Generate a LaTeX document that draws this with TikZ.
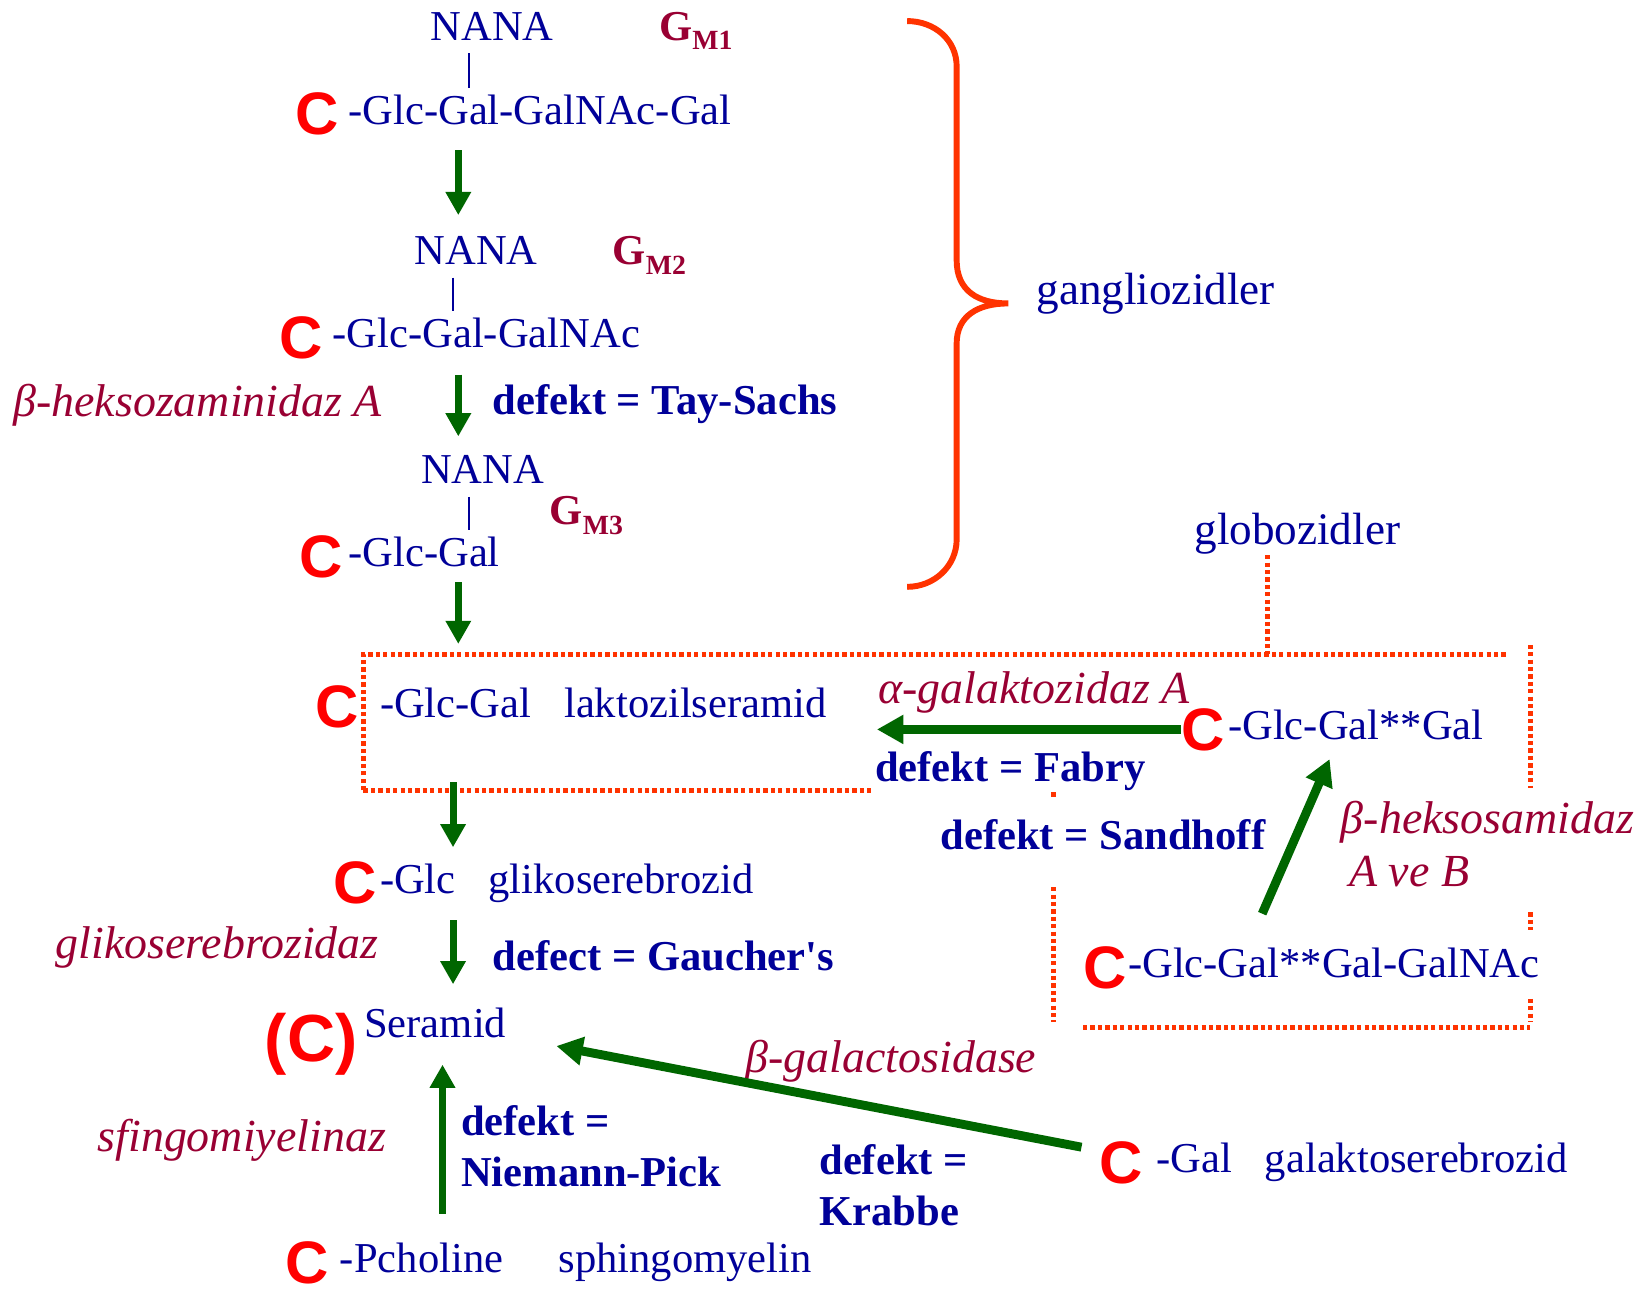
\documentclass[tikz,border=0pt]{standalone}
\usepackage{fontspec}
\setmainfont{Liberation Serif}
\newfontfamily\sansC{Liberation Sans}
\usetikzlibrary{arrows.meta,positioning}
\definecolor{navy}{HTML}{000099}
\definecolor{wine}{HTML}{990033}
\definecolor{cred}{HTML}{FF0000}
\definecolor{leaf}{HTML}{006600}
\definecolor{flame}{HTML}{FF3300}
\newcommand{\gmsub}[1]{\raisebox{-2.6pt}{\fontsize{7.5}{8}\selectfont #1}}

\begin{document}
\begin{tikzpicture}[
  mol/.style={text=navy, font=\fontsize{11.5}{13.8}\selectfont, inner sep=0pt, text height=8pt, text depth=2.5pt, anchor=base west},
  cc/.style={text=cred, font=\sansC\bfseries\fontsize{16.2}{18}\selectfont, inner sep=0pt},
  grp/.style={text=navy, font=\fontsize{12.2}{14}\selectfont, inner sep=0pt, anchor=base west},
  enz/.style={text=wine, font=\itshape\fontsize{12.4}{14.2}\selectfont, inner sep=0pt, anchor=base west, align=left},
  dfk/.style={text=navy, font=\bfseries\fontsize{11.5}{13.7}\selectfont, inner sep=0pt, anchor=base west, align=left},
  gm/.style={text=wine, font=\bfseries\fontsize{11.5}{13}\selectfont, inner sep=0pt, anchor=base west},
  arr/.style={draw=leaf, line width=1.9pt, -{Triangle[length=0.22cm,width=0.23cm]}},
  arrb/.style={draw=leaf, line width=2.4pt, -{Triangle[length=0.25cm,width=0.26cm]}},
  bar/.style={draw=navy, line width=0.5pt, shorten <=0.03cm, shorten >=0.06cm},
  dots/.style={draw=flame, line width=1.4pt, dash pattern=on 1.15pt off 0.85pt},
]
\fill[white] (0,0) rectangle (15.68,-12.27);
\useasboundingbox (0,0) rectangle (15.68,-12.27);

% ganglioside chain
\node[mol, anchor=base] (n1) at (4.67,-0.38) {NANA};
\node[gm] (gm1) at (6.25,-0.38) {G\gmsub{M1}};
\node[mol] (m1) at (3.30,-1.18) {-Glc-Gal-GalNAc-Gal};
\node[cc, left=0.08cm of m1] (c1) {C};

\node[mol, anchor=base] (n2) at (4.52,-2.51) {NANA};
\node[gm] (gm2) at (5.81,-2.51) {G\gmsub{M2}};
\node[mol] (m2) at (3.15,-3.30) {-Glc-Gal-GalNAc};
\node[cc, left=0.08cm of m2] (c2) {C};

\node[mol, anchor=base] (n3) at (4.58,-4.59) {NANA};
\node[gm] (gm3) at (5.21,-4.98) {G\gmsub{M3}};
\node[mol] (m3) at (3.30,-5.38) {-Glc-Gal};
\node[cc, left=0.04cm of m3] (c3) {C};

\node[enz] (e1) at (0.12,-3.95) {β-heksozaminidaz A};
\node[dfk] (d1) at (4.67,-3.93) {defekt = Tay-Sachs};

% brace
\draw[flame, line width=1.6pt] (8.61,-0.20) .. controls (8.87,-0.20) and (9.08,-0.38) .. (9.08,-0.63)
  -- (9.08,-2.47) .. controls (9.08,-2.76) and (9.28,-2.88) .. (9.57,-2.88)
  .. controls (9.28,-2.88) and (9.08,-3.00) .. (9.08,-3.26)
  -- (9.08,-5.12) .. controls (9.08,-5.37) and (8.87,-5.57) .. (8.61,-5.57);
\node[grp] (gang) at (9.83,-2.89) {gangliozidler};
\node[grp] (glob) at (11.33,-5.17) {globozidler};

% dotted frame
\coordinate (ftop) at (12.03,-6.21);
\draw[dots] (3.45,-7.50) -- (3.45,-6.21) -- (14.32,-6.21);
\draw[dots] (3.45,-7.50) -- (8.28,-7.50);
\draw[dots] (10.00,-7.52) -- (10.00,-7.57);
\draw[dots] (10.00,-8.42) -- (10.00,-9.70);
\draw[dots] (10.28,-9.75) -- (14.52,-9.75);
\draw[dots] (14.53,-6.12) -- (14.53,-7.48);
\draw[dots] (14.53,-8.66) -- (14.53,-8.83);
\draw[dots] (14.53,-9.48) -- (14.53,-9.70);
\draw[dots] (glob.south -| ftop) -- (ftop);

% laktozil / globo
\node[mol] (m4) at (3.60,-6.81) {-Glc-Gal\hspace{0.77em}laktozilseramid};
\node[cc, left=0.19cm of m4] (c4) {C};
\node[mol] (m5) at (11.65,-7.02) {-Glc-Gal**Gal};
\node[cc, left=0.02cm of m5] (c5) {C};
\node[mol] (m6) at (10.70,-9.28) {-Glc-Gal**Gal-GalNAc};
\node[cc, left=0cm of m6] (c6) {C};

\node[enz] (e2) at (8.33,-6.68) {α-galaktozidaz A};
\node[dfk] (d2) at (8.30,-7.42) {defekt = Fabry};
\node[dfk] (d3) at (8.92,-8.06) {defekt = Sandhoff};
\node[enz] (e3) at (12.72,-8.41) {β-heksosamidaz\\\hspace*{0.08cm}A ve B};

% cerebrosides
\node[mol] (m7) at (3.60,-8.48) {-Glc\hspace{0.77em}glikoserebrozid};
\node[cc, left=0.02cm of m7] (c7) {C};
\node[enz] (e4) at (0.52,-9.10) {glikoserebrozidaz};
\node[dfk] (d4) at (4.67,-9.21) {defect = Gaucher\textquotesingle s};

\node[mol] (ser) at (3.45,-9.85) {Seramid};
\node[cc, font=\sansC\bfseries\fontsize{18}{20}\selectfont, left=0.05cm of ser, yshift=-0.16cm] (cser) {(C)};

\node[enz] (e5) at (0.92,-10.93) {sfingomiyelinaz};
\node[dfk] (d5) at (4.37,-11.26) {defekt =\\Niemann-Pick};
\node[enz] (e6) at (7.07,-10.18) {β-galactosidase};
\node[dfk] (d6) at (7.77,-11.63) {defekt =\\Krabbe};

\node[mol] (m8) at (10.97,-11.13) {-Gal\hspace{0.77em}galaktoserebrozid};
\node[cc, left=0.12cm of m8] (c8) {C};
\node[mol] (m9) at (3.22,-12.08) {-Pcholine\hspace{1.3em}sphingomyelin};
\node[cc, left=0.09cm of m9] (c9) {C};

% NANA links
\coordinate (colA) at (4.35,0);
\coordinate (colB) at (4.30,0);
\coordinate (colC) at (4.20,0);
\coordinate (barA) at (4.45,0);
\draw[bar] (n1.south -| barA) -- (m1.north -| barA);
\draw[bar] (n2.south -| colB) -- (m2.north -| colB);
\draw[bar] (n3.south -| barA) -- (m3.north -| barA);

% degradation arrows
\draw[arr, shorten <=0.15cm, shorten >=0.18cm] (m1.south -| colA) -- (n2.north -| colA);
\draw[arr, shorten <=0.16cm, shorten >=0.16cm] (m2.south -| colA) -- (n3.north -| colA);
\draw[arr, shorten <=0.05cm, shorten >=0.41cm] (m3.south -| colA) -- (m4.north -| colA);
\draw[arr, shorten <=0.52cm, shorten >=0.15cm] (m4.south -| colB) -- (m7.north -| colB);
\draw[arr, shorten <=0.16cm, shorten >=0.22cm] (m7.south -| colB) -- (ser.north -| colB);
\draw[arr, shorten <=0.27cm, shorten >=0.16cm] (m9.north -| colC) -- (ser.south -| colC);

\draw[arrb, shorten >=0.47cm] (c5.west) -- (m4.east |- c5.west);
\draw[arrb] ([xshift=1.28cm, yshift=0.32cm]m6.north west) -- ([xshift=0.97cm, yshift=-0.09cm]m5.south west);
\draw[arrb] ([xshift=-0.16cm, yshift=0.145cm]c8.west) -- ([xshift=0.47cm, yshift=-0.175cm]ser.east);

\end{tikzpicture}
\end{document}
